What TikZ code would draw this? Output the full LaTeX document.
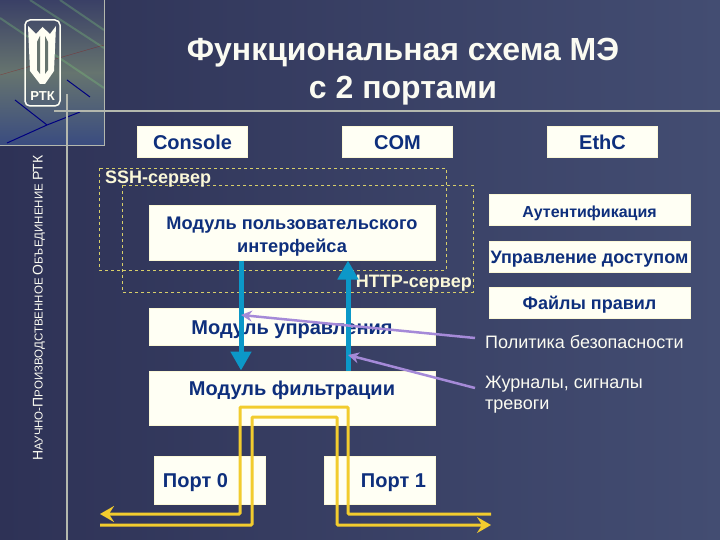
\documentclass[tikz,border=0pt]{standalone}
\usepackage{fontspec}
\setmainfont{Liberation Sans}
\usetikzlibrary{arrows.meta,positioning}
\definecolor{bgdark}{HTML}{2E3256}
\definecolor{bglight}{HTML}{434D72}
\definecolor{boxcream}{HTML}{FFFFF4}
\definecolor{boxedge}{HTML}{FBF8D8}
\definecolor{boxtext}{HTML}{0E2F7C}
\definecolor{dashyellow}{HTML}{D8CF6A}
\definecolor{linkblue}{HTML}{0C98C8}
\definecolor{linkpurple}{HTML}{A58AD8}
\definecolor{linkyellow}{HTML}{F2CC2E}
\definecolor{titlewhite}{HTML}{FBFBF2}
\definecolor{rulegrey}{HTML}{B4B8AE}
\definecolor{photogrey}{HTML}{66746F}
\definecolor{phototop}{HTML}{3A4066}
\definecolor{photoblue}{HTML}{3A4C80}

\begin{document}
\begin{tikzpicture}[
  x=1pt, y=-1pt,
  node distance=14pt and 94pt,
  box/.style={draw=boxedge, line width=1pt, fill=boxcream, text=boxtext, align=center, font=\bfseries\fontsize{20}{23}\selectfont, inner sep=0pt},
  topbox/.style={box, minimum width=110pt, minimum height=31pt},
  rightbox/.style={box, minimum width=201pt, minimum height=31pt, text height=16pt, text depth=1.5pt, font=\bfseries\fontsize{18}{20}\selectfont},
  midbox/.style={box, minimum width=286pt},
  portbox/.style={box, minimum width=111pt, minimum height=48pt, text height=17pt, text depth=2pt},
  zone/.style={draw=dashyellow, dashed, line width=0.6pt},
  zonetext/.style={text=boxedge, font=\bfseries\fontsize{18}{20}\selectfont, inner sep=0pt},
  note/.style={text=titlewhite, align=left, font=\fontsize{18}{21}\selectfont, inner sep=0pt},
  barr/.style={-{Triangle[length=19pt, width=20pt]}, line width=5pt, linkblue},
  parr/.style={-{Stealth[length=11pt, width=11pt]}, line width=2.5pt, linkpurple},
  yarr/.style={-{Stealth[length=14pt, width=16pt, inset=5pt]}, line width=3pt, linkyellow, rounded corners=1pt},
]
  % Background
  \shade[left color=bgdark, right color=bglight] (0,0) rectangle (720,540);
  \useasboundingbox (0,0) rectangle (720,540);

  % Corner picture
  \shade[top color=phototop, bottom color=photoblue, middle color=photogrey] (0,0) rectangle (104,145);
  \draw[rulegrey!70!green, opacity=.3, line width=2pt] (30,0) -- (104,48) (0,18) -- (104,88) (60,0) -- (104,30);
  \draw[red!60!black, opacity=.4] (0,75) -- (45,62) -- (104,45);
  \draw[blue!50!black, line width=1pt] (15,100) -- (47,125) -- (7,143) (47,125) -- (80,112) (67,80) -- (90,97);
  \draw[rulegrey, line width=0.6pt] (0,145) -- (104,145) -- (104,0);
  \draw[rulegrey, line width=1.2pt] (54,111) -- (720,111) (67,94) -- (67,540);

  % Logo
  \draw[boxcream, line width=1.5pt, rounded corners=5pt] (25,20) rectangle (60,106);
  \fill[boxcream] (28,26) -- (36,34) -- (42.5,27) -- (50,34) -- (56,26) -- (54,71) -- (45,84) -- (40,84) -- (30,71) -- cycle;
  \fill[photogrey] (37,42) -- (40,36) -- (40,74) -- (37,70) -- cycle (48,42) -- (45,36) -- (45,74) -- (48,70) -- cycle;
  \node[text=boxcream, font=\bfseries\fontsize{13}{14}\selectfont, inner sep=0pt] (logotext) at (42.5,96) {РТК};

  % Title
  \node[text=titlewhite, align=center, font=\bfseries\fontsize{32}{38}\selectfont, inner sep=0pt] (title) at (403,72) {Функциональная схема МЭ\\с 2 портами};
  \node[rotate=90, text=titlewhite, font=\fontsize{11.5}{12}\selectfont, inner sep=0pt] (org) at (39,308) {{\fontsize{14}{12}\selectfont Н}АУЧНО-{\fontsize{14}{12}\selectfont П}РОИЗВОДСТВЕННОЕ {\fontsize{14}{12}\selectfont О}БЪЕДИНЕНИЕ {\fontsize{14}{12}\selectfont РТК}};

  % Top row
  \node[topbox] (console) at (192.5,142.5) {Console};
  \node[topbox, right=of console] (com) {COM};
  \node[topbox, right=of com] (ethc) {EthC};

  % Right column
  \node[rightbox, font=\bfseries\fontsize{16}{18}\selectfont] (auth) at (589.5,210.5) {Аутентификация};
  \node[rightbox, below=of auth] (access) {Управление доступом};
  \node[rightbox, below=of access] (rules) {Файлы правил};
  \node[note, anchor=north west] (policy) at (485,335) {Политика безопасности};
  \node[note, anchor=north west] (logs) at (485,376) {Журналы, сигналы\\тревоги};

  % Modules
  \node[midbox, minimum height=54pt, font=\bfseries\fontsize{18.2}{23}\selectfont] (ui) at (292,233) {\rule{0pt}{20pt}Модуль пользовательского\\интерфейса};
  \node[midbox, minimum height=37pt, text height=17pt, text depth=2pt] (ctrl) at (292,326.5) {Модуль управления};
  \node[midbox, minimum height=54pt] (filter) at (292,398) {\rule{0pt}{17pt}Модуль фильтрации\\~};

  % Ports
  \node[portbox] (port0) at (209.5,480) {Порт 0\hspace{28pt}};
  \node[portbox] (port1) at (379.5,480) {\hspace{28pt}Порт 1};

  % Server zones
  \draw[zone] (99,168) rectangle (446,270);
  \draw[zone] (122,185) rectangle (473,292);
  \node[zonetext, anchor=north west] (ssh) at (105,171) {SSH-сервер};
  \node[zonetext, anchor=south east] (http) at (472,291) {HTTP-сервер};

  % Edges
  \draw[barr] (ui.south -| 241,0) -- (filter.north -| 241,0);
  \draw[barr] (filter.north -| 348,0) -- (ui.south -| 348,0);
  \coordinate (policyend) at (475,338);
  \coordinate (logsend) at (475,388);
  \draw[parr] (policyend) -- (241,315);
  \draw[parr] (logsend) -- (348,355);
  \coordinate (leftout) at (100,514);
  \coordinate (leftin) at (100,525);
  \coordinate (rightin) at (491,514);
  \coordinate (rightout) at (491,525);
  \draw[yarr] (rightin) -- (348,514) -- (348,407) -- (240,407) -- (240,514) -- (leftout);
  \draw[yarr] (leftin) -- (252,525) -- (252,417) -- (337,417) -- (337,525) -- (rightout);
\end{tikzpicture}
\end{document}
